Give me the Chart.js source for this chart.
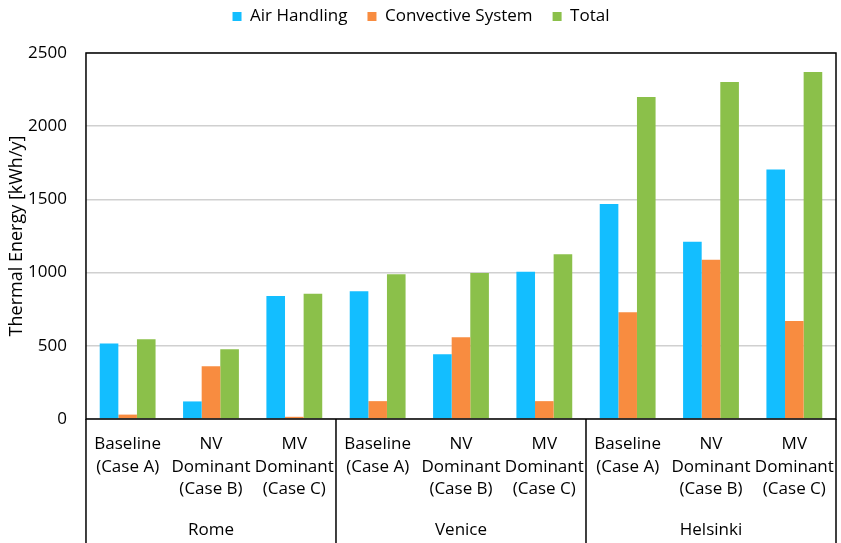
<!doctype html>
<html>
<head>
    <meta charset="utf-8" />
    <title>Thermal Energy</title>
    <script src="https://cdn.jsdelivr.net/npm/chart.js@4"></script>
    <style>
        body { margin: 0; background: #fff; }
        #wrap { width: 841px; height: 543px; }
    </style>
</head>
<body>
<div id="wrap"><canvas id="joonis"></canvas></div>
<script>
    // data
    const cities = ['Rome', 'Venice', 'Helsinki'];
    const cases = [
        ['Baseline', '(Case A)'],
        ['NV', 'Dominant', '(Case B)'],
        ['MV', 'Dominant', '(Case C)']
    ];
    const airHandling = [515, 120, 840, 872, 443, 1005, 1468, 1210, 1705];
    const convective = [30, 360, 15, 122, 558, 122, 730, 1088, 670];
    const total = [545, 477, 855, 988, 997, 1125, 2200, 2302, 2370];
    const yTicks = [0, 500, 1000, 1500, 2000, 2500];

    const labels = [];
    cities.forEach(() => cases.forEach(c => labels.push(c)));

    const fontName = "'Open Sans', 'Noto Sans', sans-serif";

    // extra room between legend and plot
    const legendiVahe = {
        id: 'legendiVahe',
        beforeInit(chart) {
            const fit = chart.legend.fit;
            chart.legend.fit = function () {
                fit.bind(chart.legend)();
                this.height += 18;
            };
        }
    };

    // frame around the plot and the city separators under the axis
    const raamid = {
        id: 'raamid',
        afterDraw(chart) {
            const { ctx, chartArea: a, scales } = chart;
            const x = scales.x;
            ctx.save();
            ctx.strokeStyle = '#000';
            ctx.lineWidth = 1.5;
            ctx.strokeRect(a.left, a.top, a.right - a.left, a.bottom - a.top);
            for (let g = 0; g <= cities.length; g++) {
                let px;
                if (g === 0) px = a.left;
                else if (g === cities.length) px = a.right;
                else {
                    const i = g * cases.length;
                    px = (x.getPixelForTick(i - 1) + x.getPixelForTick(i)) / 2;
                }
                ctx.beginPath();
                ctx.moveTo(px, a.bottom);
                ctx.lineTo(px, chart.height);
                ctx.stroke();
            }
            ctx.restore();
        }
    };

    function fixAxis(h) {
        return function (axis) {
            axis.height = h;
            axis.paddingLeft = 0;
            axis.paddingRight = 0;
        };
    }

    new Chart(document.getElementById('joonis'), {
        type: 'bar',
        data: {
            labels: labels,
            datasets: [
                { label: 'Air Handling', data: airHandling, backgroundColor: '#13BEFF' },
                { label: 'Convective System', data: convective, backgroundColor: '#F88C40' },
                { label: 'Total', data: total, backgroundColor: '#8BC04A' }
            ]
        },
        options: {
            responsive: true,
            maintainAspectRatio: false,
            animation: false,
            layout: { padding: { left: 6, right: 5, top: -12, bottom: 4 } },
            datasets: { bar: { categoryPercentage: 0.67, barPercentage: 1 } },
            plugins: {
                legend: {
                    position: 'top',
                    labels: {
                        boxWidth: 9, boxHeight: 9, padding: 20,
                        color: '#000',
                        font: { family: fontName, size: 17 }
                    }
                },
                tooltip: { enabled: false }
            },
            scales: {
                x: {
                    offset: true,
                    afterFit: fixAxis(80),
                    grid: { display: false, drawTicks: false },
                    border: { display: false },
                    ticks: {
                        color: '#000',
                        padding: 14,
                        maxRotation: 0,
                        autoSkip: false,
                        font: { family: fontName, size: 17, lineHeight: 1.32 }
                    }
                },
                city: {
                    type: 'category',
                    labels: cities,
                    position: 'bottom',
                    offset: true,
                    afterFit: fixAxis(40),
                    grid: { display: false, drawTicks: false },
                    border: { display: false },
                    ticks: {
                        color: '#000',
                        padding: 21,
                        font: { family: fontName, size: 17 }
                    }
                },
                y: {
                    min: 0,
                    max: 2500,
                    afterBuildTicks(axis) {
                        axis.ticks = yTicks.map(v => ({ value: v }));
                    },
                    grid: { color: '#D0D0D0', lineWidth: 1.5, drawTicks: false },
                    border: { display: false },
                    ticks: {
                        color: '#000',
                        padding: 19,
                        callback: v => String(v),
                        font: { family: fontName, size: 17 }
                    },
                    title: {
                        display: true,
                        text: 'Thermal Energy [kWh/y]',
                        color: '#000',
                        padding: { top: 0, bottom: -18.5 },
                        font: { family: fontName, size: 18 }
                    }
                }
            }
        },
        plugins: [legendiVahe, raamid]
    });
</script>
</body>
</html>
